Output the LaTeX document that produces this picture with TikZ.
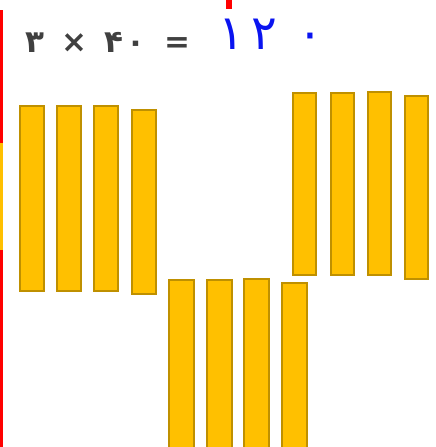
\documentclass[tikz,border=0pt]{standalone}
\usepackage{fontspec}
\newfontfamily\persfont[Script=Arabic]{DejaVu Sans}
\definecolor{barfill}{HTML}{FFC000}
\definecolor{barline}{HTML}{BF9000}
\definecolor{inkblue}{HTML}{0A14F0}
\tikzset{
  bar/.style={fill=barfill,draw=barline,line width=1.6pt},
  sumtext/.style={anchor=west,text=black!75,inner sep=0pt,font=\persfont\bfseries\fontsize{31}{31}\selectfont},
  handtext/.style={anchor=west,text=inkblue,inner sep=0pt,font=\persfont\fontsize{48}{48}\selectfont}
}

\begin{document}
\begin{tikzpicture}[x=1pt,y=-1pt]
    \useasboundingbox (0,0) rectangle (436,447);
    % red margin line and the mark at the top
    \fill[red] (0,10) rectangle (3,447);
    \fill[red] (226,0) rectangle (232,9);
    % sliver of a bar cut at the left edge
    \fill[barfill] (0,143) rectangle (2.5,250);
    % the sum and the written answer
    \node[sumtext] (sum) at (25,42) {۳\hspace{17pt}×\hspace{17pt}۴\hspace{4pt}۰\hspace{19pt}=};
    \node[handtext] (answer) at (218,34) {۱\hspace{8pt}۲\hspace{20pt}۰};
    % left group of bars
    \foreach \x/\t/\b in {20/106/291, 57/106/291, 94/106/291, 132/110/294}
        \draw[bar] (\x,\t) rectangle (\x+24,\b);
    % middle group, going off the bottom
    \foreach \x/\t in {169/280, 207/280, 244/279, 282/283}
        \draw[bar] (\x,\t) rectangle (\x+25,452);
    % right group of bars
    \foreach \x/\t/\b in {293/93/275, 331/93/275, 368/92/275, 405/96/279}
        \draw[bar] (\x,\t) rectangle (\x+23,\b);
\end{tikzpicture}
\end{document}
